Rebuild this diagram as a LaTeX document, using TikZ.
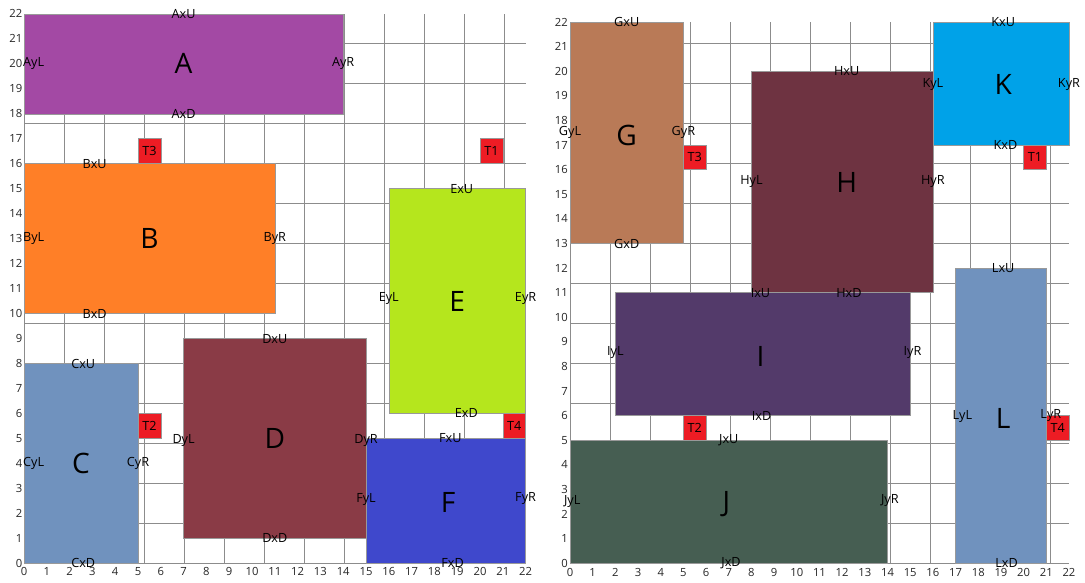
\documentclass[tikz,border=0pt]{standalone}
\usepackage{fontspec}
\setmainfont{Open Sans}
\definecolor{cA}{HTML}{A349A4}
\definecolor{cB}{HTML}{FF7F27}
\definecolor{cC}{HTML}{7092BE}
\definecolor{cD}{HTML}{8A3B46}
\definecolor{cE}{HTML}{B5E61D}
\definecolor{cF}{HTML}{3F48CC}
\definecolor{cG}{HTML}{B97A57}
\definecolor{cH}{HTML}{6E3341}
\definecolor{cI}{HTML}{533A6A}
\definecolor{cJ}{HTML}{465E52}
\definecolor{cK}{HTML}{00A2E8}
\definecolor{cL}{HTML}{7092BE}
\definecolor{tred}{HTML}{ED1C24}
\begin{document}
\begin{tikzpicture}[
    lab/.style={font=\fontsize{9}{9}\selectfont, inner sep=0pt},
    big/.style={font=\fontsize{20}{20}\selectfont, inner sep=0pt},
    tick/.style={font=\fontsize{8}{8}\selectfont, inner sep=0pt, text=black!85},
    room/.style={draw=black!40, line width=0.4pt},
    tgt/.style={fill=tred, draw=black!40, line width=0.4pt},
    grd/.style={draw=black!45, line width=0.6pt}]
    \useasboundingbox (0,0) rectangle (27.125,14.575);
    % left plan
    \begin{scope}[shift={(0.6,0.4925)}, x=0.57cm, y=0.6243cm]
        \draw[grd] (0,0) grid (22,22);
        \foreach \i in {0,...,22} {
            \node[tick, anchor=east] (ly\i) at (-0.06,\i) {\i};
            \node[tick, anchor=north] (lx\i) at (\i,-0.15) {\i};
        }
        % rooms
        \draw[room, fill=cA] (0,18) rectangle (14,22);
        \draw[room, fill=cB] (0,10) rectangle (11,16);
        \draw[room, fill=cC] (0,0) rectangle (5,8);
        \draw[room, fill=cD] (7,1) rectangle (15,9);
        \draw[room, fill=cE] (16,6) rectangle (22,15);
        \draw[room, fill=cF] (15,0) rectangle (22,5);
        % targets
        \draw[tgt] (20,16) rectangle (21,17);
        \draw[tgt] (5,5) rectangle (6,6);
        \draw[tgt] (5,16) rectangle (6,17);
        \draw[tgt] (21,5) rectangle (22,6);
        \node[lab] (lT1) at (20.5,16.5) {T1};
        \node[lab] (lT2) at (5.5,5.5) {T2};
        \node[lab] (lT3) at (5.5,16.5) {T3};
        \node[lab] (lT4) at (21.5,5.5) {T4};
        % A
        \node[big] (A) at (7,20) {A};
        \node[lab] (AxU) at (7,22) {AxU};
        \node[lab] (AxD) at (7,18) {AxD};
        \node[lab, anchor=west] (AyL) at (-0.05,20) {AyL};
        \node[lab] (AyR) at (14,20) {AyR};
        % B
        \node[big] (B) at (5.5,13) {B};
        \node[lab] (BxU) at (3.1,16) {BxU};
        \node[lab] (BxD) at (3.1,10) {BxD};
        \node[lab, anchor=west] (ByL) at (-0.05,13) {ByL};
        \node[lab] (ByR) at (11,13) {ByR};
        % C
        \node[big] (C) at (2.5,4) {C};
        \node[lab] (CxU) at (2.6,8) {CxU};
        \node[lab] (CxD) at (2.6,0) {CxD};
        \node[lab, anchor=west] (CyL) at (-0.05,4) {CyL};
        \node[lab] (CyR) at (5,4) {CyR};
        % D
        \node[big] (D) at (11,5) {D};
        \node[lab] (DxU) at (11,9) {DxU};
        \node[lab] (DxD) at (11,1) {DxD};
        \node[lab] (DyL) at (7,4.9) {DyL};
        \node[lab] (DyR) at (15,4.9) {DyR};
        % E
        \node[big] (E) at (19,10.5) {E};
        \node[lab] (ExU) at (19.2,15) {ExU};
        \node[lab] (ExD) at (19.4,6) {ExD};
        \node[lab] (EyL) at (16,10.6) {EyL};
        \node[lab] (EyR) at (22,10.6) {EyR};
        % F
        \node[big] (F) at (18.6,2.45) {F};
        \node[lab] (FxU) at (18.7,5) {FxU};
        \node[lab] (FxD) at (18.8,0) {FxD};
        \node[lab] (FyL) at (15,2.55) {FyL};
        \node[lab] (FyR) at (22,2.6) {FyR};
    \end{scope}
    % right plan
    \begin{scope}[shift={(14.25,0.4925)}, x=0.567cm, y=0.615cm]
        \draw[grd] (0,0) grid (22,22);
        \foreach \i in {0,...,22} {
            \node[tick, anchor=east] (ry\i) at (-0.09,\i) {\i};
            \node[tick, anchor=north] (rx\i) at (\i,-0.18) {\i};
        }
        % rooms
        \draw[room, fill=cG] (0,13) rectangle (5,22);
        \draw[room, fill=cH] (8,11) rectangle (16,20);
        \draw[room, fill=cK] (16,17) rectangle (22,22);
        \draw[room, fill=cI] (2,6) rectangle (15,11);
        \draw[room, fill=cJ] (0,0) rectangle (14,5);
        \draw[room, fill=cL] (17,0) rectangle (21,12);
        % targets
        \draw[tgt] (20,16) rectangle (21,17);
        \draw[tgt] (5,5) rectangle (6,6);
        \draw[tgt] (5,16) rectangle (6,17);
        \draw[tgt] (21,5) rectangle (22,6);
        \node[lab] (rT1) at (20.5,16.5) {T1};
        \node[lab] (rT2) at (5.5,5.5) {T2};
        \node[lab] (rT3) at (5.5,16.5) {T3};
        \node[lab] (rT4) at (21.5,5.5) {T4};
        % G
        \node[big] (G) at (2.5,17.4) {G};
        \node[lab] (GxU) at (2.5,22) {GxU};
        \node[lab] (GxD) at (2.5,13) {GxD};
        \node[lab] (GyL) at (0,17.5) {GyL};
        \node[lab] (GyR) at (5,17.5) {GyR};
        % H
        \node[big] (H) at (12.2,15.5) {H};
        \node[lab] (HxU) at (12.2,20) {HxU};
        \node[lab] (HxD) at (12.3,11) {HxD};
        \node[lab] (HyL) at (8,15.5) {HyL};
        \node[lab] (HyR) at (16,15.5) {HyR};
        % K
        \node[big] (K) at (19.1,19.45) {K};
        \node[lab] (KxU) at (19.1,22) {KxU};
        \node[lab] (KxD) at (19.2,17) {KxD};
        \node[lab] (KyL) at (16,19.45) {KyL};
        \node[lab] (KyR) at (22,19.45) {KyR};
        % I
        \node[big] (I) at (8.4,8.4) {I};
        \node[lab] (IxU) at (8.4,11) {IxU};
        \node[lab] (IxD) at (8.45,6) {IxD};
        \node[lab] (IyL) at (2,8.55) {IyL};
        \node[lab] (IyR) at (15.1,8.55) {IyR};
        % J
        \node[big] (J) at (6.9,2.4) {J};
        \node[lab] (JxU) at (7,5) {JxU};
        \node[lab] (JxD) at (7.1,0) {JxD};
        \node[lab] (JyL) at (0.1,2.5) {JyL};
        \node[lab] (JyR) at (14.1,2.55) {JyR};
        % L
        \node[big] (L) at (19.1,5.9) {L};
        \node[lab] (LxU) at (19.1,12) {LxU};
        \node[lab] (LxD) at (19.25,0) {LxD};
        \node[lab] (LyL) at (17.3,5.95) {LyL};
        \node[lab] (LyR) at (21.2,6) {LyR};
    \end{scope}
\end{tikzpicture}
\end{document}
